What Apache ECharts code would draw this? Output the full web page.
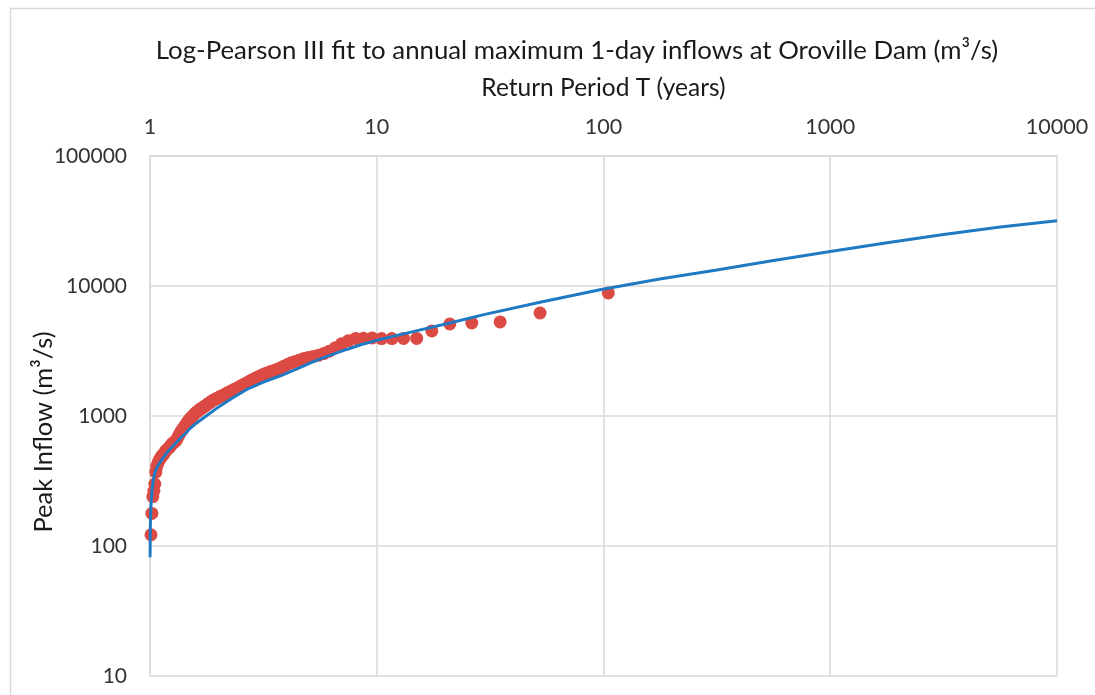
<!DOCTYPE html>
<html>
<head>
<meta charset="utf-8">
<script src="https://cdn.jsdelivr.net/npm/echarts@6/dist/echarts.min.js"></script>
<style>
html,body{margin:0;padding:0;background:#fff;}
#chart{width:1095px;height:695px;}
</style>
</head>
<body>
<div id="chart"></div>
<script>
// Observed annual maxima: return period (years) and peak inflow (m3/s)
const obsT = [105, 52.5, 35, 26.25, 21, 17.5, 15, 13.125, 11.667, 10.5,
  9.545, 8.75, 8.077, 7.5, 7, 6.5625, 6.176, 5.833, 5.526, 5.25,
  5, 4.773, 4.565, 4.375, 4.2, 4.038, 3.889, 3.75, 3.621, 3.5,
  3.387, 3.281, 3.182, 3.088, 3, 2.917, 2.838, 2.763, 2.692, 2.625,
  2.561, 2.5, 2.442, 2.386, 2.333, 2.283, 2.234, 2.188, 2.143, 2.1,
  2.059, 2.019, 1.981, 1.944, 1.909, 1.875, 1.842, 1.81, 1.78, 1.75,
  1.721, 1.694, 1.667, 1.641, 1.615, 1.591, 1.567, 1.544, 1.522, 1.5,
  1.479, 1.458, 1.438, 1.419, 1.4, 1.382, 1.364, 1.346, 1.329, 1.3125,
  1.296, 1.28, 1.265, 1.25, 1.235, 1.221, 1.207, 1.193, 1.18, 1.167,
  1.154, 1.141, 1.129, 1.117, 1.105, 1.094, 1.082, 1.071, 1.061, 1.05,
  1.04, 1.029, 1.019, 1.01];
const obsQ = [8850, 6200, 5290, 5190, 5100, 4510, 3950, 3950, 3940, 3940,
  3980, 3960, 3950, 3800, 3600, 3350, 3150, 3020, 2930, 2870,
  2820, 2770, 2700, 2630, 2570, 2490, 2410, 2340, 2280, 2230,
  2190, 2140, 2100, 2050, 2000, 1950, 1910, 1860, 1810, 1770,
  1730, 1690, 1650, 1620, 1590, 1560, 1530, 1500, 1470, 1440,
  1420, 1400, 1370, 1350, 1330, 1300, 1275, 1250, 1220, 1195,
  1170, 1150, 1130, 1105, 1080, 1060, 1030, 1000, 975, 950,
  920, 890, 860, 830, 800, 780, 750, 720, 690, 660,
  640, 630, 620, 610, 595, 575, 565, 555, 545, 530,
  515, 500, 495, 480, 465, 450, 430, 410, 370, 300,
  265, 240, 178, 122];
// Fitted Log-Pearson III curve
const fitT = [1.001, 1.002, 1.004, 1.007, 1.01, 1.02, 1.034, 1.05, 1.075, 1.107,
  1.15, 1.2, 1.267, 1.35, 1.45, 1.5, 1.6, 1.78, 2, 2.3,
  2.67, 3.2, 3.74, 4.5, 5.25, 6.2, 7.37, 8.5, 10, 14,
  21, 30, 52.5, 96.5, 177, 316, 562, 1000, 1780, 3160,
  5620, 10000];
const fitQ = [82, 110, 150, 180, 205, 265, 322, 365, 405, 440,
  485, 535, 590, 665, 750, 800, 880, 1010, 1170, 1370,
  1600, 1840, 2030, 2320, 2620, 2930, 3250, 3530, 3820, 4400,
  5200, 6050, 7500, 9350, 11300, 13300, 15700, 18400, 21500, 24900,
  28400, 31800];
const xTicks = [1, 10, 100, 1000, 10000];
const yTicks = [10, 100, 1000, 10000, 100000];

const FONT = 'Lato';
const chart = echarts.init(document.getElementById('chart'), null, {renderer: 'canvas'});
const fmt = v => String(Math.round(v));
chart.setOption({
  backgroundColor: '#ffffff',
  animation: false,
  graphic: [{
    type: 'rect', left: 8, top: 6, silent: true, z: -10,
    shape: {width: 1200, height: 800},
    style: {fill: 'none', stroke: '#d9d9d9', lineWidth: 1.5}
  }, {
    type: 'text', x: 44, y: 432, rotation: Math.PI / 2, silent: true,
    style: {
      text: 'Peak Inflow (m³/s)', fill: '#1a1a1a',
      font: '25.5px Lato', textAlign: 'center', textVerticalAlign: 'middle'
    }
  }],
  title: {
    text: 'Log-Pearson III fit to annual maximum 1-day inflows at Oroville Dam (m³/s)',
    left: 572, top: 33, textAlign: 'center',
    textStyle: {fontFamily: FONT, fontSize: 25.8, fontWeight: 'normal', color: '#1a1a1a'}
  },
  grid: {left: 150, right: 38, top: 156, bottom: 19, containLabel: false},
  xAxis: {
    type: 'log', logBase: 10, position: 'top',
    min: xTicks[0], max: xTicks[xTicks.length - 1], splitNumber: 4,
    name: 'Return Period T (years)', nameLocation: 'middle', nameGap: 55,
    nameTextStyle: {fontFamily: FONT, fontSize: 24.5, color: '#1a1a1a'},
    axisLine: {show: true, lineStyle: {color: '#d9d9d9', width: 1.5}},
    axisTick: {show: false},
    axisLabel: {fontFamily: FONT, fontSize: 21.5, color: '#333', margin: 18, formatter: fmt},
    splitLine: {show: true, lineStyle: {color: '#d9d9d9', width: 1.5}}
  },
  yAxis: {
    type: 'log', logBase: 10,
    min: yTicks[0], max: yTicks[yTicks.length - 1], splitNumber: 4,
    axisLine: {show: true, lineStyle: {color: '#d9d9d9', width: 1.5}},
    axisTick: {show: false},
    axisLabel: {fontFamily: FONT, fontSize: 21, color: '#333', margin: 23, formatter: fmt},
    splitLine: {show: true, lineStyle: {color: '#d9d9d9', width: 1.5}}
  },
  series: [{
    type: 'scatter', name: 'Observed',
    data: obsT.map((t, i) => [t, obsQ[i]]),
    symbol: 'circle', symbolSize: 13,
    itemStyle: {color: '#dc4a44', opacity: 1},
    z: 2
  }, {
    type: 'line', name: 'LP3 fit',
    data: fitT.map((t, i) => [t, fitQ[i]]),
    showSymbol: false, smooth: false,
    lineStyle: {color: '#1f7ac4', width: 3},
    z: 3
  }]
});
</script>
</body>
</html>
